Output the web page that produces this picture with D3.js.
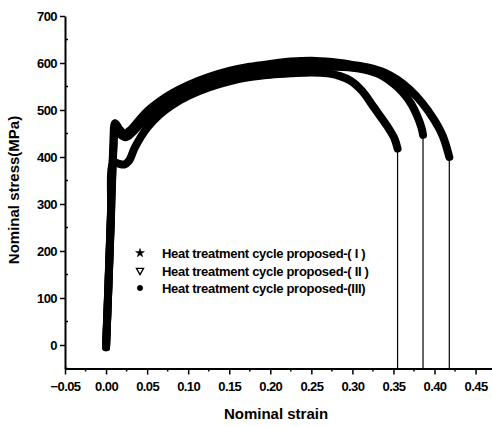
<!DOCTYPE html>
<html>
<head>
<meta charset="utf-8">
<script src="https://cdn.jsdelivr.net/npm/d3@7"></script>
<style>
  body { margin: 0; background: #fff; }
  text { font-family: "Liberation Sans", Arial, sans-serif; fill: #000; font-weight: bold; }
</style>
</head>
<body>
<div id="chart"></div>
<script>
// tick values
const xTicks = [-0.05, 0.00, 0.05, 0.10, 0.15, 0.20, 0.25, 0.30, 0.35, 0.40, 0.45];
const yTicks = [0, 100, 200, 300, 400, 500, 600, 700];

// series names
const seriesNames = [
    "Heat treatment cycle proposed-( I )",
    "Heat treatment cycle proposed-( II )",
    "Heat treatment cycle proposed-(III)"
];

// cycle I
const strainI = [0, 0.003, 0.006, 0.009, 0.015, 0.022, 0.028, 0.035, 0.05, 0.065, 0.08, 0.10, 0.125, 0.15, 0.175, 0.20, 0.225, 0.25, 0.27, 0.285, 0.298, 0.312, 0.326, 0.343, 0.351, 0.355];
const stressI = [-5, 130, 270, 388, 386, 384, 392, 420, 462, 490, 510, 530, 548, 561, 570, 575, 578, 580, 578, 572, 562, 540, 506, 464, 440, 418];

// cycle II
const strainII = [0, 0.003, 0.006, 0.009, 0.011, 0.016, 0.024, 0.032, 0.04, 0.05, 0.065, 0.08, 0.10, 0.125, 0.15, 0.175, 0.20, 0.225, 0.25, 0.275, 0.30, 0.32, 0.335, 0.35, 0.362, 0.372, 0.379, 0.384, 0.386];
const stressII = [-3, 135, 285, 425, 462, 450, 442, 452, 467, 482, 503, 521, 541, 558, 571, 580, 586, 589, 591, 592, 590, 584, 574, 556, 536, 512, 487, 463, 447];

// cycle III
const strainIII = [0, 0.003, 0.006, 0.009, 0.011, 0.016, 0.022, 0.03, 0.04, 0.05, 0.065, 0.08, 0.10, 0.125, 0.15, 0.175, 0.20, 0.225, 0.25, 0.275, 0.30, 0.32, 0.34, 0.355, 0.37, 0.385, 0.40, 0.41, 0.418];
const stressIII = [-5, 130, 280, 420, 472, 460, 450, 458, 478, 497, 518, 535, 553, 570, 583, 592, 598, 603, 605, 602, 596, 590, 579, 564, 543, 515, 478, 445, 400];

const svg = d3.select("#chart")
              .append("svg")
              .attr("width", 492)
              .attr("height", 427);

// scales
const x = d3.scaleLinear()
            .domain([-0.05, 0.47])
            .range([65, 492]);

const y = d3.scaleLinear()
            .domain([-50, 700])
            .range([368.5, 16]);

// curves
const series = [
    {strain: strainI, stress: stressI},
    {strain: strainII, stress: stressII},
    {strain: strainIII, stress: stressIII}
];

series.forEach(s => {
    const pts = s.strain.map((v, i) => [v, s.stress[i]]);
    svg.append("path")
       .datum(pts)
       .attr("d", d3.line().x(d => x(d[0])).y(d => y(d[1])).curve(d3.curveCatmullRom))
       .attr("fill", "none")
       .attr("stroke", "#000")
       .attr("stroke-width", 8)
       .attr("stroke-linejoin", "round")
       .attr("stroke-linecap", "round");

    // fracture drop down to the axis
    const last = pts[pts.length - 1];
    svg.append("line")
       .attr("x1", x(last[0]))
       .attr("x2", x(last[0]))
       .attr("y1", y(last[1]))
       .attr("y2", y(-50))
       .attr("stroke", "#000")
       .attr("stroke-width", 1.2);
});

// x axis
const xAxis = svg.append("g")
                 .attr("transform", `translate(0,${y(-50)})`)
                 .call(d3.axisBottom(x)
                         .tickValues(xTicks)
                         .tickFormat(d3.format(".2f"))
                         .tickSize(6)
                         .tickSizeOuter(0));
xAxis.select(".domain").attr("stroke-width", 2);
xAxis.selectAll(".tick line").attr("stroke-width", 1.5);
xAxis.selectAll(".tick text")
     .attr("dy", "1.05em")
     .style("font-size", "13px")
     .style("font-weight", "bold")
     .style("letter-spacing", "-0.6px");

// minor x ticks
svg.append("g")
   .selectAll("line")
   .data(xTicks.slice(0, -1).map(d => d + 0.025))
   .enter().append("line")
   .attr("x1", d => x(d)).attr("x2", d => x(d))
   .attr("y1", y(-50)).attr("y2", y(-50) + 3)
   .attr("stroke", "#000").attr("stroke-width", 1.5);

// y axis
const yAxis = svg.append("g")
                 .attr("transform", `translate(${x(-0.05)},0)`)
                 .call(d3.axisLeft(y)
                         .tickValues(yTicks)
                         .tickSize(5)
                         .tickSizeOuter(0));
yAxis.select(".domain").attr("stroke-width", 2);
yAxis.selectAll(".tick line").attr("stroke-width", 1.5);
yAxis.selectAll(".tick text")
     .style("font-size", "13px")
     .style("font-weight", "bold")
     .style("letter-spacing", "-0.6px");

// minor y ticks
svg.append("g")
   .selectAll("line")
   .data(yTicks.map(d => d - 50))
   .enter().append("line")
   .attr("x1", x(-0.05)).attr("x2", x(-0.05) + 3)
   .attr("y1", d => y(d)).attr("y2", d => y(d))
   .attr("stroke", "#000").attr("stroke-width", 1.5);

// axis labels
svg.append("text")
   .attr("x", 276)
   .attr("y", 419)
   .attr("text-anchor", "middle")
   .style("font-size", "15px")
   .text("Nominal strain");

svg.append("text")
   .attr("transform", "rotate(-90)")
   .attr("x", -190)
   .attr("y", 19)
   .attr("text-anchor", "middle")
   .style("font-size", "15px")
   .text("Nominal stress(MPa)");

// legend
const symbols = [d3.symbolStar, d3.symbolTriangle, d3.symbolCircle];
const legend = svg.append("g").attr("transform", "translate(140,253)");
seriesNames.forEach((name, i) => {
    const g = legend.append("g").attr("transform", `translate(0,${i * 17.5})`);
    g.append("path")
     .attr("d", d3.symbol().type(symbols[i]).size(i === 1 ? 22 : 24)())
     .attr("transform", i === 1 ? "rotate(180)" : null)
     .attr("fill", i === 1 ? "none" : "#000")
     .attr("stroke", "#000")
     .attr("stroke-width", i === 1 ? 1.3 : 0.5);
    g.append("text")
     .attr("x", 22)
     .attr("y", 5)
     .style("font-size", "13px")
     .style("letter-spacing", "-0.3px")
     .text(name);
});
</script>
</body>
</html>
